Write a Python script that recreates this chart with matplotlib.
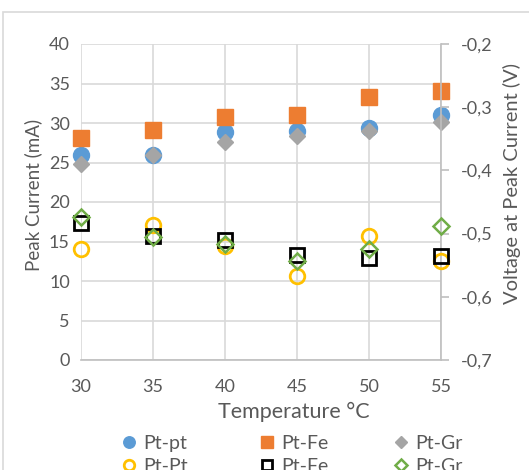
import matplotlib
matplotlib.use("Agg")
import matplotlib.pyplot as plt
from matplotlib.patches import Rectangle

temps = [30, 35, 40, 45, 50, 55]
# Peak current (mA) - left axis
cur_pt_pt = [25.9, 26.0, 28.8, 29.0, 29.4, 31.0]
cur_pt_fe = [28.1, 29.1, 30.7, 31.0, 33.3, 34.1]
cur_pt_gr = [24.8, 26.0, 27.6, 28.4, 29.0, 30.1]
# Voltage at peak current (V) - right axis
volt_pt_pt = [-0.524, -0.486, -0.519, -0.567, -0.504, -0.544]
volt_pt_fe = [-0.484, -0.504, -0.510, -0.534, -0.539, -0.536]
volt_pt_gr = [-0.473, -0.506, -0.517, -0.543, -0.525, -0.488]

left_ticks = [0, 5, 10, 15, 20, 25, 30, 35, 40]
right_ticks = [-0.7, -0.6, -0.5, -0.4, -0.3, -0.2]
right_labels = ["-0,7", "-0,6", "-0,5", "-0,4", "-0,3", "-0,2"]

TXT = "#595959"
GRID = "#d9d9d9"
AX = "#bfbfbf"
plt.rcParams['font.family'] = ['Lato', 'DejaVu Sans']

W, H = 529, 470
fig = plt.figure(figsize=(W/100, H/100), dpi=100)
fig.patches.append(Rectangle((3/W, -0.2), 2.0, 1 - 12/H + 0.2, transform=fig.transFigure,
                             fill=False, edgecolor=GRID, lw=1.2, zorder=0))

ax = fig.add_axes([81/W, 1 - 360/H, 360/W, 316/H])
ax.set_xlim(30, 55)
ax.set_ylim(0, 40)
ax.set_xticks(temps)
ax.set_yticks(left_ticks)
ax.grid(True, color=GRID, lw=1.2)
ax.set_axisbelow(True)
for s in ['top', 'left', 'right']:
    ax.spines[s].set_visible(False)
ax.spines['bottom'].set_color(AX)
ax.spines['bottom'].set_linewidth(1.2)
ax.tick_params(axis='both', length=0, labelsize=13, colors=TXT, pad=8)
ax.tick_params(axis='x', pad=14)
ax.set_xlabel("Temperature °C", fontsize=15.5, color=TXT)
ax.xaxis.set_label_coords(0.592, -0.133)
ax.set_ylabel("Peak Current (mA)", fontsize=13.5, color=TXT)
ax.yaxis.set_label_coords(-0.108, 0.522)

ms = 11.5
ax.plot(temps, cur_pt_pt, 'o', color='#5B9BD5', ms=ms, zorder=3, clip_on=False, label='Pt-pt')
ax.plot(temps, cur_pt_fe, 's', color='#ED7D31', ms=ms, zorder=3, clip_on=False, label='Pt-Fe')
ax.plot(temps, cur_pt_gr, 'D', color='#A5A5A5', ms=8.5, zorder=3, clip_on=False, label='Pt-Gr')

ax2 = ax.twinx()
ax2.set_ylim(-0.7, -0.2)
ax2.set_yticks(right_ticks)
ax2.set_yticklabels(right_labels)
for s in ['top', 'left', 'bottom']:
    ax2.spines[s].set_visible(False)
ax2.spines['right'].set_color(AX)
ax2.spines['right'].set_linewidth(1.2)
ax2.tick_params(axis='y', length=6, width=1.2, color=AX, labelsize=13, labelcolor=TXT, pad=8)
ax2.set_ylabel("Voltage at Peak Current (V)", fontsize=14.5, color=TXT)
ax2.yaxis.set_label_coords(1.172, 0.56)

ax2.plot(temps, volt_pt_pt, 'o', mfc='none', mec='#FFC000', mew=2, ms=10.5, zorder=3, clip_on=False, label='Pt-Pt')
ax2.plot(temps, volt_pt_fe, 's', mfc='none', mec='#000000', mew=2, ms=10.5, zorder=3, clip_on=False, label='Pt-Fe')
ax2.plot(temps, volt_pt_gr, 'D', mfc='none', mec='#70AD47', mew=1.8, ms=8, zorder=3, clip_on=False, label='Pt-Gr')

h1, l1 = ax.get_legend_handles_labels()
h2, l2 = ax2.get_legend_handles_labels()
col_x = [121, 259, 393]
for i, x0 in enumerate(col_x):
    leg = fig.legend([h1[i], h2[i]], [l1[i], l2[i]], loc='upper left',
                     bbox_to_anchor=(x0/W, 1 - 435/H), frameon=False, borderpad=0,
                     borderaxespad=0, fontsize=14, handlelength=0.8, handletextpad=0.33,
                     labelspacing=0.3, markerscale=0.72)
    for t in leg.get_texts():
        t.set_color(TXT)

fig.savefig("out.png", dpi=100)
